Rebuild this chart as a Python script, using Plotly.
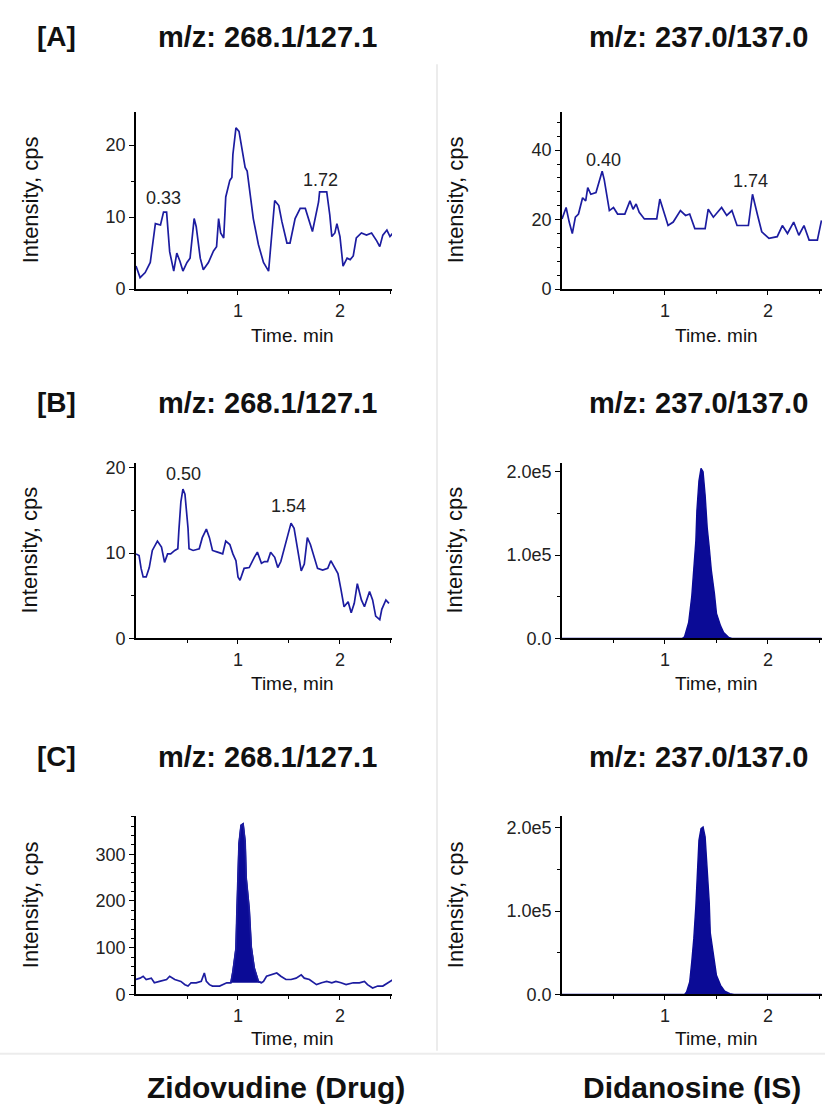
import plotly.graph_objects as go

# ---------------- data (time in min, intensity in cps) ----------------
a_drug_t = [0.00,0.04,0.09,0.14,0.19,0.24,0.27,0.30,0.33,0.37,0.40,0.43,0.46,0.50,0.53,0.57,0.59,0.63,0.66,0.71,
            0.76,0.79,0.81,0.83,0.86,0.88,0.92,0.94,0.95,0.98,1.01,1.04,1.07,1.09,1.12,1.15,1.20,1.25,1.30,1.32,
            1.36,1.40,1.43,1.48,1.51,1.56,1.61,1.66,1.69,1.73,1.79,1.80,1.87,1.90,1.92,1.95,1.97,2.00,2.03,2.07,
            2.10,2.13,2.16,2.21,2.26,2.31,2.36,2.39,2.42,2.46,2.49,2.52]
a_drug_y = [3.2,1.6,2.3,3.7,9.1,8.9,10.7,10.7,5.2,2.5,5.0,3.9,2.5,3.7,4.3,9.8,8.7,4.3,2.7,3.7,
            5.3,5.9,9.8,7.8,7.1,12.8,15.1,15.5,18.7,22.4,21.9,19.4,16.9,16.4,12.9,9.8,6.2,3.7,2.5,5.9,
            12.3,11.6,9.4,6.4,6.4,9.8,11.2,11.2,9.8,8.0,12.1,13.5,13.5,10.3,7.3,7.8,9.1,7.3,3.2,4.3,
            4.1,4.6,7.1,7.8,7.5,7.8,6.7,5.9,7.5,8.2,7.3,7.8]

a_is_t = [0.00,0.04,0.07,0.10,0.13,0.16,0.20,0.23,0.25,0.28,0.33,0.36,0.39,0.41,0.45,0.46,0.50,0.54,0.61,0.66,
          0.69,0.72,0.75,0.80,0.92,0.95,1.00,1.03,1.08,1.15,1.20,1.24,1.29,1.39,1.42,1.47,1.55,1.60,1.65,1.70,
          1.81,1.85,1.90,1.94,2.01,2.09,2.14,2.19,2.25,2.30,2.35,2.40,2.48,2.52]
a_is_y = [20.2,23.5,19.3,16.0,20.7,21.6,26.3,25.4,29.2,27.3,27.8,30.6,33.9,31.5,24.9,22.6,23.5,21.6,21.6,25.4,
          23.0,24.5,22.1,20.2,20.2,25.9,21.2,18.3,19.3,22.6,21.2,21.6,17.4,17.4,23.0,20.7,23.5,21.2,22.6,18.3,
          18.3,27.3,21.2,16.5,14.6,15.1,18.3,16.0,19.3,15.5,18.3,14.1,14.1,19.8]

b_drug_t = [0.00,0.03,0.05,0.07,0.10,0.13,0.16,0.21,0.25,0.28,0.31,0.34,0.38,0.41,0.42,0.44,0.46,0.48,0.51,0.52,
            0.56,0.62,0.65,0.69,0.72,0.75,0.80,0.85,0.88,0.92,0.95,0.98,1.00,1.02,1.06,1.11,1.16,1.19,1.23,1.26,
            1.29,1.32,1.36,1.39,1.42,1.45,1.49,1.52,1.55,1.58,1.62,1.65,1.68,1.71,1.75,1.78,1.83,1.88,1.91,1.94,
            1.98,2.01,2.04,2.08,2.11,2.14,2.17,2.21,2.24,2.29,2.32,2.35,2.39,2.41,2.45,2.48]
b_drug_y = [9.9,9.7,8.2,7.2,7.2,8.3,10.3,11.4,10.7,8.9,9.9,9.9,10.3,10.5,12.6,16.0,17.5,16.9,12.9,10.5,
            10.3,10.5,11.8,12.8,11.8,10.3,10.1,9.9,11.4,11.0,9.9,9.1,7.2,6.8,8.2,8.3,9.5,10.1,8.8,9.0,
            9.0,10.1,9.5,8.3,9.0,10.4,12.1,13.5,12.9,10.6,7.9,8.7,11.8,11.0,9.5,8.2,8.0,8.2,9.1,8.5,
            7.6,5.7,3.7,4.3,3.0,4.1,6.4,4.5,3.7,5.5,4.5,2.6,2.2,3.4,4.5,4.1]

b_is_t = [0.00,1.17,1.19,1.23,1.26,1.28,1.30,1.31,1.33,1.35,1.37,1.39,1.41,1.43,1.45,1.48,1.50,1.54,1.57,1.62,1.65,2.52]
b_is_y = [0,0,2000,19000,50000,82000,117000,153000,189000,204000,200000,172000,133000,109000,82000,54000,
          30000,15000,7000,1000,0,0]

c_drug_t_pre = [0.00,0.04,0.07,0.10,0.15,0.18,0.23,0.30,0.33,0.38,0.44,0.48,0.51,0.54,0.59,0.64,0.67,0.69,0.72,0.75,0.82,0.89,0.92]
c_drug_y_pre = [32,35,39,32,35,25,28,32,39,32,28,21,18,25,25,28,46,28,21,18,18,25,25]
c_drug_peak_t = [0.93,0.95,0.98,0.99,1.00,1.01,1.03,1.05,1.07,1.08,1.11,1.13,1.16,1.20,1.23]
c_drug_peak_y = [25,49,98,183,246,323,362,365,327,250,183,102,56,28,25]
c_drug_t_post = [1.25,1.28,1.33,1.38,1.42,1.47,1.52,1.57,1.62,1.65,1.70,1.77,1.82,1.87,1.92,1.96,2.01,2.06,2.13,2.19,
                 2.24,2.27,2.32,2.37,2.42,2.47,2.52]
c_drug_y_post = [28,39,42,46,39,32,32,35,42,35,32,21,25,28,25,28,25,21,25,25,28,21,14,18,18,25,32]

c_is_t = [0.00,1.19,1.21,1.24,1.26,1.28,1.30,1.32,1.33,1.35,1.37,1.39,1.41,1.43,1.44,1.47,1.50,1.54,1.58,1.63,1.67,2.52]
c_is_y = [0,0,3000,15000,39000,67000,106000,150000,185000,199000,201000,189000,150000,110000,74000,47000,
          23000,11000,4000,1000,0,0]

# peak labels: (time, y, text)
a_drug_labels = [(0.27, 12.6, "0.33"), (0.99, 25.1, "0.97"), (1.81, 15.1, "1.72")]
a_is_labels = [(0.40, 37.2, "0.40"), (1.83, 31.2, "1.74")]
b_drug_labels = [(0.47, 19.3, "0.50"), (1.50, 15.5, "1.54")]
b_is_labels = [(1.34, 219000, "1.20")]
c_drug_labels = [(1.02, 397, "1.10")]
c_is_labels = [(1.42, 218000, "1.20")]

row_titles = ["[A]", "[B]", "[C]"]
left_title = "m/z: 268.1/127.1"
right_title = "m/z: 237.0/137.0"
x_titles = ["Time. min", "Time, min", "Time, min"]
y_title = "Intensity, cps"
bottom_labels = ["Zidovudine (Drug)", "Didanosine (IS)"]

# ---------------- layout helpers ----------------
W, H = 825, 1113
def px(x):
    return x / W
def py(y):
    return 1 - y / H

LINE = "#1c1ca0"
FILL = "#0b0b96"
FONT = "Liberation Sans, Arial, sans-serif"
TXT = "#222222"

# plot rectangles (left, right, top, bottom) in pixels
rects = {
    1: (136, 392, 108, 288), 2: (562, 822, 108, 288),
    3: (136, 392, 464, 642), 4: (562, 822, 464, 642),
    5: (136, 392, 822, 1003), 6: (562, 822, 822, 1003),
}
xranges = {1: 2.51, 2: 2.525, 3: 2.51, 4: 2.525, 5: 2.51, 6: 2.525}
yaxes_cfg = {
    1: dict(range=[0, 24.66], tickvals=[0, 10, 20], ticktext=["0", "10", "20"], minor=5),
    2: dict(range=[0, 51.1], tickvals=[0, 20, 40], ticktext=["0", "20", "40"], minor=4),
    3: dict(range=[0, 20.58], tickvals=[0, 10, 20], ticktext=["0", "10", "20"], minor=5),
    4: dict(range=[0, 210700], tickvals=[0, 100000, 200000], ticktext=["0.0", "1.0e5", "2.0e5"], minor=50000),
    5: dict(range=[0, 382], tickvals=[0, 100, 200, 300], ticktext=["0", "100", "200", "300"], minor=20),
    6: dict(range=[0, 214200], tickvals=[0, 100000, 200000], ticktext=["0.0", "1.0e5", "2.0e5"], minor=50000),
}

fig = go.Figure()

def add_line(i, t, y):
    fig.add_trace(go.Scatter(x=t, y=y, mode="lines", line=dict(color=LINE, width=1.7),
                             xaxis="x%d" % i, yaxis="y%d" % i, showlegend=False, hoverinfo="skip"))

add_line(1, a_drug_t, a_drug_y)
add_line(2, a_is_t, a_is_y)
add_line(3, b_drug_t, b_drug_y)
fig.add_trace(go.Scatter(x=b_is_t, y=b_is_y, mode="lines", fill="tozeroy", fillcolor=FILL,
                         line=dict(color=FILL, width=1.4), xaxis="x4", yaxis="y4",
                         showlegend=False, hoverinfo="skip"))
fig.add_trace(go.Scatter(x=c_drug_peak_t, y=c_drug_peak_y, mode="lines", fill="toself", fillcolor=FILL,
                         line=dict(color=FILL, width=1.4), xaxis="x5", yaxis="y5",
                         showlegend=False, hoverinfo="skip"))
add_line(5, c_drug_t_pre + c_drug_peak_t + c_drug_t_post, c_drug_y_pre + c_drug_peak_y + c_drug_y_post)
fig.add_trace(go.Scatter(x=c_is_t, y=c_is_y, mode="lines", fill="tozeroy", fillcolor=FILL,
                         line=dict(color=FILL, width=1.4), xaxis="x6", yaxis="y6",
                         showlegend=False, hoverinfo="skip"))

layout = dict(width=W, height=H, margin=dict(l=0, r=0, t=0, b=0),
              paper_bgcolor="white", plot_bgcolor="white", showlegend=False)

for i, (l, r, t, b) in rects.items():
    sx = "" if i == 1 else str(i)
    layout["xaxis" + sx] = dict(
        domain=[px(l), px(r)], anchor="y%d" % i, range=[0, xranges[i]],
        tickvals=[1, 2], ticktext=["1", "2"], ticks="outside", ticklen=4, tickwidth=1.2, tickcolor="black",
        minor=dict(tickvals=[0.5, 1.5, 2.5], ticks="outside", ticklen=3, tickcolor="black", tickwidth=1),
        showline=True, linecolor="black", linewidth=1.8, showgrid=False, zeroline=False,
        tickfont=dict(family=FONT, size=18, color=TXT), fixedrange=True)
    yc = yaxes_cfg[i]
    layout["yaxis" + sx] = dict(
        domain=[py(b), py(t)], anchor="x%d" % i, range=yc["range"],
        tickvals=yc["tickvals"], ticktext=yc["ticktext"], ticks="outside", ticklen=5, tickwidth=1.2,
        tickcolor="black",
        minor=dict(dtick=yc["minor"], tick0=0, ticks="outside", ticklen=3, tickcolor="black", tickwidth=1),
        showline=True, linecolor="black", linewidth=1.8, showgrid=False, zeroline=False,
        tickfont=dict(family=FONT, size=18, color=TXT), fixedrange=True)

ann = []
def pann(x, y, text, size, bold=False, angle=0):
    ann.append(dict(xref="paper", yref="paper", x=px(x), y=py(y), text=("<b>%s</b>" % text) if bold else text,
                    showarrow=False, xanchor="center", yanchor="middle", textangle=angle,
                    font=dict(family=FONT, size=size, color="#111111")))

title_rows = [32, 403, 762]
for k, yy in enumerate(title_rows):
    pann(56, yy, row_titles[k], 28, bold=True)
    pann(267, yy, left_title, 29, bold=True)
    pann(698, yy, right_title, 29, bold=True)

xt_rows = [335, 688, 1048]
for k, yy in enumerate(xt_rows):
    pann(292, yy, x_titles[k], 19)
    pann(716, yy, x_titles[k], 19)

for i, (l, r, t, b) in rects.items():
    xx = 30 if l < 400 else 455
    pann(xx, (t + b) / 2, y_title, 22, angle=-90)

pann(276, 1097, bottom_labels[0], 30, bold=True)
pann(692, 1097, bottom_labels[1], 30, bold=True)

def data_labels(i, labels):
    for (tx, ty, txt) in labels:
        ann.append(dict(xref="x%d" % i, yref="y%d" % i, x=tx, y=ty, text=txt, showarrow=False,
                        xanchor="center", yanchor="middle",
                        font=dict(family=FONT, size=18, color=TXT)))

data_labels(1, a_drug_labels)
data_labels(2, a_is_labels)
data_labels(3, b_drug_labels)
data_labels(4, b_is_labels)
data_labels(5, c_drug_labels)
data_labels(6, c_is_labels)

layout["annotations"] = ann
layout["shapes"] = [
    dict(type="line", xref="paper", yref="paper", x0=px(437), x1=px(437), y0=py(60), y1=py(1060),
         line=dict(color="#ececec", width=2), layer="below"),
    dict(type="line", xref="paper", yref="paper", x0=0, x1=1, y0=py(1063), y1=py(1063),
         line=dict(color="#ececec", width=2), layer="below"),
]

fig.update_layout(**layout)
fig.write_html("out.html")
